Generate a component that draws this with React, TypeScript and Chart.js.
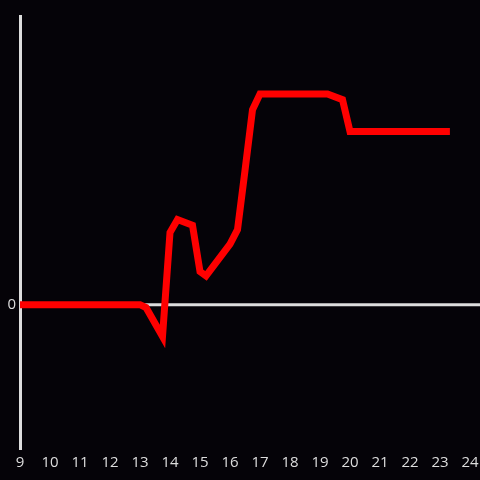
import React, { useEffect, useRef } from "react";
import { Chart, registerables } from "chart.js";

Chart.register(...registerables);

const hours = [8.75, 13, 13.2, 13.75, 14.0, 14.25, 14.75, 15.0, 15.2, 16.0, 16.25, 16.5, 16.75, 17.0, 19.25, 19.75, 20.0, 23.33];
const values = [0, 0, -1, -11, 25, 29.5, 27.5, 11.5, 10, 21, 26, 46.5, 67.5, 73, 73, 71, 60, 60];
const xTicks = [9, 10, 11, 12, 13, 14, 15, 16, 17, 18, 19, 20, 21, 22, 23, 24];
const yLabels = [0];

const BG = "#050308";
const AXIS = "#dddddd";
const FONT = "'Open Sans', 'Noto Sans', sans-serif";

export default function App() {
  const ref = useRef<HTMLCanvasElement>(null);
  useEffect(() => {
    document.body.style.margin = "0";
    document.body.style.background = BG;
    const bgPlugin = {
      id: "bg",
      beforeDraw(chart: any) {
        const c = chart.ctx;
        c.save();
        c.fillStyle = BG;
        c.fillRect(0, 0, chart.width, chart.height);
        c.restore();
      },
      beforeDatasetsDraw(chart: any) {
        const c = chart.ctx;
        const y = chart.scales.y.getPixelForValue(0);
        c.save();
        c.strokeStyle = AXIS;
        c.lineWidth = 3;
        c.beginPath();
        c.moveTo(chart.chartArea.left, y);
        c.lineTo(chart.width, y);
        c.stroke();
        c.restore();
      },
    };
    const chart = new Chart(ref.current!, {
      type: "line",
      data: {
        datasets: [
          {
            data: hours.map((h, i) => ({ x: h, y: values[i] })),
            borderColor: "#ff0000",
            borderWidth: 7,
            pointRadius: 0,
            tension: 0,
            fill: false,
          },
        ],
      },
      options: {
        animation: false,
        responsive: false,
        events: [],
        layout: { padding: { top: 16, right: 10, left: 0, bottom: 0 } },
        plugins: { legend: { display: false }, tooltip: { enabled: false } },
        scales: {
          x: {
            type: "linear",
            min: 9,
            max: 24,
            afterBuildTicks: (s: any) => {
              s.ticks = xTicks.map((v) => ({ value: v }));
            },
            afterFit: (s: any) => {
              s.height = 31;
              s.paddingLeft = 0;
              s.paddingRight = 0;
            },
            grid: { display: false, drawTicks: false },
            border: { display: false },
            ticks: {
              color: AXIS,
              font: { size: 15, family: FONT },
              padding: 5,
              maxRotation: 0,
              autoSkip: false,
            },
          },
          y: {
            type: "linear",
            min: -50,
            max: 100,
            afterBuildTicks: (s: any) => {
              s.ticks = yLabels.map((v) => ({ value: v }));
            },
            afterFit: (s: any) => {
              s.width = 20;
              s.paddingTop = 0;
              s.paddingBottom = 0;
            },
            grid: { display: false, drawTicks: false },
            border: { display: true, color: AXIS, width: 3 },
            ticks: {
              color: AXIS,
              font: { size: 15, family: FONT },
              padding: 4,
            },
          },
        },
      },
      plugins: [bgPlugin],
    });
    return () => chart.destroy();
  }, []);
  return (
    <div style={{ position: "fixed", left: 0, top: 0, width: 480, height: 480, background: BG }}>
      <canvas ref={ref} width={480} height={480} />
    </div>
  );
}
